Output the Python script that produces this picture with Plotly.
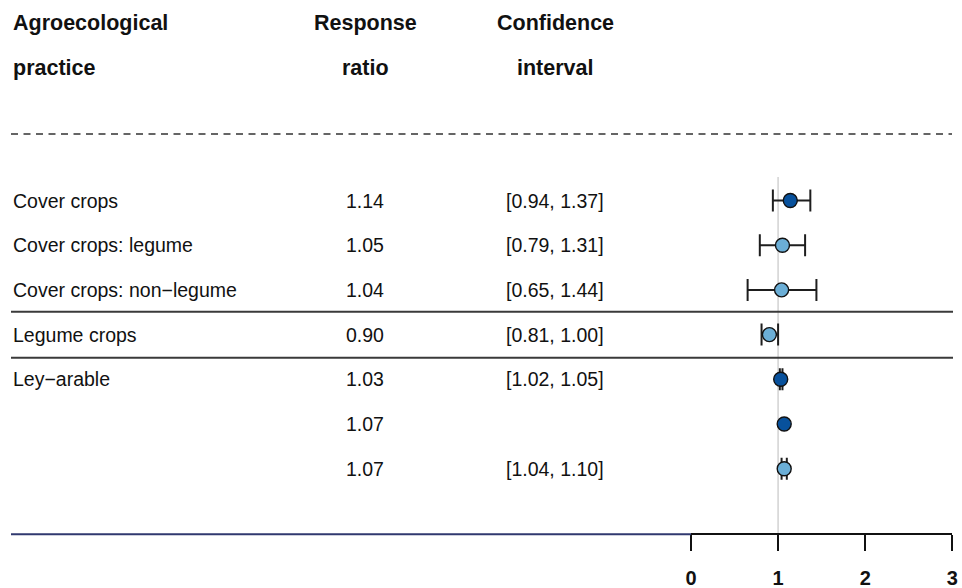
import plotly.graph_objects as go

# ---- data -------------------------------------------------------------
practices = ["Cover crops", "Cover crops: legume", "Cover crops: non\u2212legume",
             "Legume crops", "Ley\u2212arable", "", ""]
response_ratio = [1.14, 1.05, 1.04, 0.90, 1.03, 1.07, 1.07]
ci_low = [0.94, 0.79, 0.65, 0.81, 1.02, None, 1.04]
ci_high = [1.37, 1.31, 1.44, 1.00, 1.05, None, 1.10]
estimate_type = ["dark", "light", "light", "light", "dark", "dark", "light"]
header_practice = ["Agroecological", "practice"]
header_ratio = ["Response", "ratio"]
header_ci = ["Confidence", "interval"]
axis_ticks = [0, 1, 2, 3]

# ---- geometry (pixels of the 962x588 canvas) ----------------------------
W, H = 962, 588
ROW0_PX, ROW_STEP = 200.5, 44.7          # first table row and row pitch


def row_at(px):
    """Row coordinate for a given vertical pixel position."""
    return (px - ROW0_PX) / ROW_STEP


FONT = "Liberation Sans, Arial, Helvetica, sans-serif"
COLORS = {"dark": "#08519c", "light": "#6baed6"}
ERR_COLOR = "#1e1e1e"

rows = list(range(len(practices)))

fig = go.Figure()

# confidence intervals (only rows that have one)
ci_rows = [r for r in rows if ci_low[r] is not None]
fig.add_trace(go.Scatter(
    x=[response_ratio[r] for r in ci_rows],
    y=ci_rows,
    mode="markers",
    marker=dict(size=1, opacity=0),
    error_x=dict(
        type="data", symmetric=False,
        array=[ci_high[r] - response_ratio[r] for r in ci_rows],
        arrayminus=[response_ratio[r] - ci_low[r] for r in ci_rows],
        color=ERR_COLOR, thickness=2, width=11,
    ),
    xaxis="x2", yaxis="y", hoverinfo="skip", showlegend=False,
))

# point estimates
for kind in ["dark", "light"]:
    sel = [r for r in rows if estimate_type[r] == kind]
    fig.add_trace(go.Scatter(
        x=[response_ratio[r] for r in sel],
        y=sel,
        mode="markers",
        marker=dict(symbol="circle", size=14, color=COLORS[kind],
                    line=dict(color="#111111", width=1.4)),
        xaxis="x2", yaxis="y", showlegend=False,
    ))

# ---- table text --------------------------------------------------------
X_PRACTICE, X_RATIO, X_CI = 12, 365, 555
annotations = []
for i, (a, b, c) in enumerate(zip(header_practice, header_ratio, header_ci)):
    yy = row_at(23 + 45 * i)
    hfont = dict(family=FONT, size=21.5, color="#111111", weight="bold")
    annotations.append(dict(x=X_PRACTICE, y=yy, text=a, xanchor="left", font=hfont))
    annotations.append(dict(x=X_RATIO, y=yy, text=b, xanchor="center", font=hfont))
    annotations.append(dict(x=X_CI, y=yy, text=c, xanchor="center", font=hfont))

bfont = dict(family=FONT, size=19.5, color="#111111")
for r in rows:
    if practices[r]:
        annotations.append(dict(x=X_PRACTICE, y=r, text=practices[r],
                                xanchor="left", font=bfont))
    annotations.append(dict(x=X_RATIO, y=r, text=f"{response_ratio[r]:.2f}",
                            xanchor="center", font=bfont))
    if ci_low[r] is not None:
        annotations.append(dict(x=X_CI, y=r,
                                text=f"[{ci_low[r]:.2f}, {ci_high[r]:.2f}]",
                                xanchor="center", font=bfont))
for a in annotations:
    a.update(xref="x", yref="y", showarrow=False, yanchor="middle", borderpad=0)

# ---- rules -------------------------------------------------------------
AXIS_PX = 534.3
AXIS_Y = row_at(AXIS_PX)
shapes = [
    dict(type="line", xref="x", yref="y", x0=11, x1=952, y0=row_at(134), y1=row_at(134),
         line=dict(color="#333333", width=1.5, dash="7px,5.5px")),
    dict(type="line", xref="x", yref="y", x0=11, x1=953, y0=row_at(311.7), y1=row_at(311.7),
         line=dict(color="#3a3a3a", width=2)),
    dict(type="line", xref="x", yref="y", x0=11, x1=953, y0=row_at(357.7), y1=row_at(357.7),
         line=dict(color="#3a3a3a", width=2)),
    dict(type="line", xref="x", yref="y", x0=11, x1=691, y0=AXIS_Y, y1=AXIS_Y,
         line=dict(color="#30396f", width=2)),
    dict(type="line", xref="x2", yref="y", x0=1, x1=1, y0=row_at(177), y1=AXIS_Y,
         line=dict(color="#d2d2d2", width=1.5), layer="below"),
]

fig.update_layout(
    width=W, height=H,
    margin=dict(l=0, r=0, t=0, b=0, pad=0, autoexpand=False),
    paper_bgcolor="white", plot_bgcolor="white",
    showlegend=False,
    xaxis=dict(range=[0, W], domain=[0, 1], visible=False, fixedrange=True,
               automargin=False),
    yaxis=dict(range=[row_at(H), row_at(0)], domain=[0, 1], visible=False,
               fixedrange=True, automargin=False),
    xaxis2=dict(
        domain=[691 / W, 952.3 / W], range=[0, 3],
        anchor="free", position=1 - AXIS_PX / H, automargin=False,
        tickvals=axis_ticks, ticktext=[str(t) for t in axis_ticks],
        showline=True, linecolor="#111111", linewidth=1.5,
        ticks="outside", ticklen=16, tickwidth=1.5, tickcolor="#111111",
        tickfont=dict(family=FONT, size=20, color="#111111", weight="bold"),
        ticklabelstandoff=10,
        showgrid=False, zeroline=False, fixedrange=True,
    ),
    annotations=annotations,
    shapes=shapes,
)

fig.write_html("out.html")
